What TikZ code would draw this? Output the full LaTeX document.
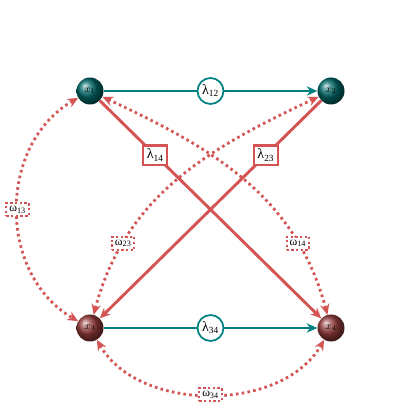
\documentclass[tikz,border=0pt]{standalone}
\usepackage{fontspec}
\newfontfamily\lab{Liberation Serif}
\usetikzlibrary{arrows.meta,shadings}
\definecolor{tealc}{RGB}{0,128,128}
\definecolor{redc}{RGB}{212,84,84}
\definecolor{tealball}{RGB}{0,105,105}
\definecolor{redball}{RGB}{150,60,60}
\tikzset{
  var/.style={circle,minimum size=27*0.03cm,inner sep=0pt,shading=ball,font=\small},
  tealvar/.style={var,ball color=tealball},
  redvar/.style={var,ball color=redball},
  tealedge/.style={draw=tealc,line width=2.5pt,-{Stealth[length=9pt,width=8pt]}},
  rededge/.style={draw=redc,line width=2.5pt,-{Stealth[length=9pt,width=8pt]}},
  dotedge/.style={draw=redc,line width=2.4pt,dash pattern=on 2.2pt off 2.8pt,{Stealth[length=9pt,width=8pt]}-{Stealth[length=9pt,width=8pt]}},
  circlab/.style={circle,draw=tealc,line width=1.5pt,fill=white,inner sep=0.5pt,minimum size=26*0.03cm,font=\lab\large},
  boxlab/.style={rectangle,draw=redc,line width=1.8pt,fill=white,inner sep=3pt,font=\lab\large},
  dotlab/.style={rectangle,draw=redc,line width=1.8pt,dash pattern=on 2pt off 2pt,fill=white,inner sep=2.5pt,font=\lab},
}
\begin{document}
\begin{tikzpicture}[x=0.03cm,y=0.03cm]
\useasboundingbox[fill=white] (0,0) rectangle (420,420);
\node[tealvar] (x1) at (90,329) {$x_1$};
\node[tealvar] (x2) at (331,329) {$x_2$};
\node[redvar] (x3) at (90,92) {$x_3$};
\node[redvar] (x4) at (331,92) {$x_4$};
% dotted bidirected
\draw[dotedge] (x1) to[out=-150,in=150,looseness=1.07] node[dotlab,pos=0.5] (w13) {ω\textsubscript{13}} (x3);
\draw[dotedge] (x3) to[out=-60,in=-120,looseness=0.95] node[dotlab,pos=0.5] (w34) {ω\textsubscript{34}} (x4);
\draw[dotedge] (x1) to[out=-25,in=105] node[dotlab,pos=0.77] (w14) {ω\textsubscript{14}} (x4);
\draw[dotedge] (x2) to[out=205,in=75] node[dotlab,pos=0.77] (w23) {ω\textsubscript{23}} (x3);
% directed
\draw[rededge] (x1) -- node[boxlab,pos=0.25] (l14) {λ\textsubscript{14}} (x4);
\draw[rededge] (x2) -- node[boxlab,pos=0.25] (l23) {λ\textsubscript{23}} (x3);
\draw[tealedge] (x1) -- node[circlab] (l12) {λ\textsubscript{12}} (x2);
\draw[tealedge] (x3) -- node[circlab] (l34) {λ\textsubscript{34}} (x4);
\end{tikzpicture}
\end{document}
